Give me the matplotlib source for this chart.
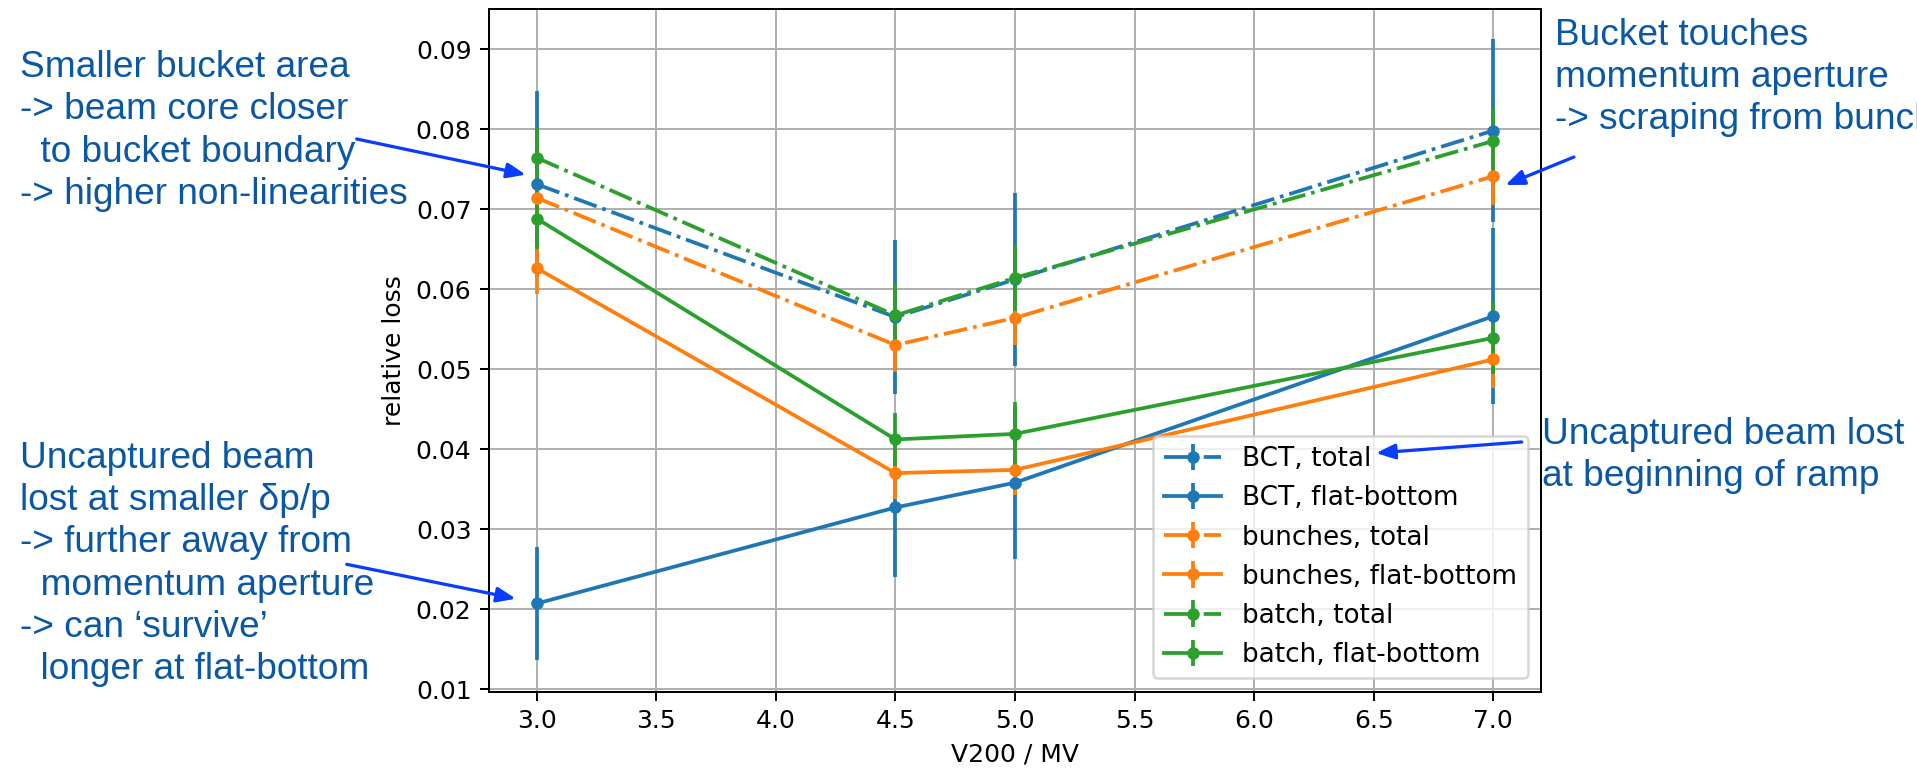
import matplotlib
matplotlib.use("Agg")
import matplotlib.pyplot as plt

# RF voltage scan: relative losses for the three measurement methods
v200 = [3.0, 4.5, 5.0, 7.0]

bct_total = [0.0731, 0.0565, 0.0612, 0.0798]
bct_total_err = [0.0116, 0.0096, 0.0108, 0.0114]
bct_fb = [0.0207, 0.0327, 0.0358, 0.0566]
bct_fb_err = [0.0071, 0.0087, 0.0095, 0.0110]

bunches_total = [0.0714, 0.0530, 0.0564, 0.0741]
bunches_total_err = [0.0032, 0.0034, 0.0034, 0.0036]
bunches_fb = [0.0626, 0.0370, 0.0374, 0.0512]
bunches_fb_err = [0.0032, 0.0033, 0.0032, 0.0036]

batch_total = [0.0764, 0.0567, 0.0614, 0.0785]
batch_total_err = [0.0038, 0.0040, 0.0041, 0.0043]
batch_fb = [0.0688, 0.0412, 0.0419, 0.0539]
batch_fb_err = [0.0038, 0.0033, 0.0040, 0.0045]

W, H, DPI = 1917, 774, 180
fig = plt.figure(figsize=(W / DPI, H / DPI), dpi=DPI)
ax = fig.add_axes([489 / W, 1 - 691.5 / H, (1541 - 489) / W, (691.5 - 9) / H])

series = [
    (bct_total, bct_total_err, 'C0', '-.', 'BCT, total'),
    (bct_fb, bct_fb_err, 'C0', '-', 'BCT, flat-bottom'),
    (bunches_total, bunches_total_err, 'C1', '-.', 'bunches, total'),
    (bunches_fb, bunches_fb_err, 'C1', '-', 'bunches, flat-bottom'),
    (batch_total, batch_total_err, 'C2', '-.', 'batch, total'),
    (batch_fb, batch_fb_err, 'C2', '-', 'batch, flat-bottom'),
]
for y, e, c, ls, lab in series:
    ax.errorbar(v200, y, yerr=e, color=c, linestyle=ls, marker='o',
                markersize=4, label=lab)

ax.set_xlim(2.8, 7.2)
ax.set_ylim(0.0097, 0.0950)
ax.set_xlabel('V200 / MV')
ax.set_ylabel('relative loss')
ax.grid(True)
ax.legend(loc='lower right', fontsize=10.5, handlelength=2.2)

# slide annotations
txt = dict(family='Liberation Sans', fontsize=14.8, color='#0a57a6',
           linespacing=1.27, va='center', ha='left')
fig.text(20 / W, 1 - 131 / H,
         'Smaller bucket area\n-> beam core closer\n  to bucket boundary\n'
         '-> higher non-linearities', **txt)
fig.text(20 / W, 1 - 564 / H,
         'Uncaptured beam\nlost at smaller δp/p\n-> further away from\n'
         '  momentum aperture\n-> can \u2018survive\u2019\n  longer at flat-bottom',
         **txt)
# runs off the right edge, as on the slide
fig.text(1555 / W, 1 - 77.5 / H,
         'Bucket touches\nmomentum aperture\n-> scraping from bunches', **txt)
fig.text(1542 / W, 1 - 455.5 / H,
         'Uncaptured beam lost\nat beginning of ramp', **txt)

arrow = dict(arrowstyle='-|>,head_length=0.45,head_width=0.18',
             color='#0a3cff', lw=1.3, mutation_scale=14, shrinkA=0, shrinkB=0)
heads = [(2.954, 0.0743), (2.912, 0.0213), (7.051, 0.0730), (6.51, 0.0395)]
tails = [(356.7, 139), (346.7, 564.3), (1574, 157), (1521.7, 442)]
for (hx, hy), (tx, ty) in zip(heads, tails):
    ax.annotate('', xy=(hx, hy), xycoords='data',
                xytext=(tx / W, 1 - ty / H), textcoords='figure fraction',
                arrowprops=arrow, annotation_clip=False, zorder=10)

fig.savefig('out.png', dpi=DPI)
